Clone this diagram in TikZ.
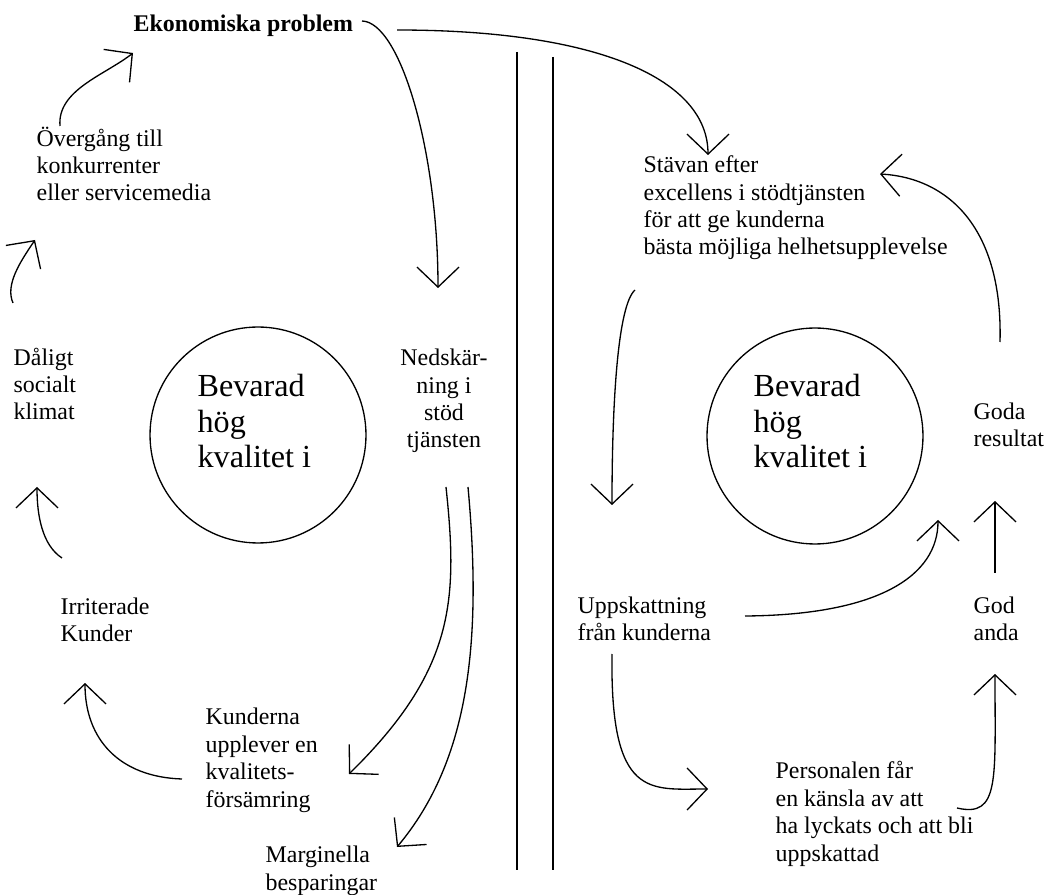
\documentclass[tikz,border=0pt]{standalone}
\usepackage{fontspec}
\setmainfont{Liberation Serif}
\usetikzlibrary{arrows.meta}
\tikzset{
	txt/.style={align=left,anchor=base west,inner sep=0pt,font=\fontsize{13.6}{15.6}\selectfont},
	ctxt/.style={txt,align=center,anchor=base},
	ring/.style={draw,circle,minimum size=4.32cm,inner sep=0pt},
	big/.style={txt,font=\fontsize{18.3}{20.4}\selectfont},
	-v/.style={-{Straight Barb[length=0.4cm,width=0.84cm]}}
}
\begin{document}
\begin{tikzpicture}[x=0.02cm,y=-0.02cm,line width=0.75pt]
	\useasboundingbox (0,0) rectangle (1046,895);
	% left cycle
	\node[txt,font=\fontsize{13.6}{15.6}\selectfont\bfseries] (eko) at (133,32) {Ekonomiska problem};
	\node[txt] (ove) at (36,201) {Övergång till\\konkurrenter\\eller servicemedia};
	\node[txt] (dal) at (13,420) {Dåligt\\socialt\\klimat};
	\node[ring] (lring) at (258,435) {};
	\node[big] (lq) at (197,468) {Bevarad\\hög\\kvalitet i};
	\node[ctxt] (ned) at (444,448) {Nedskär-\\ning i\\stöd\\tjänsten};
	\node[txt] (irr) at (60,642) {Irriterade\\Kunder};
	\node[txt] (kun) at (205,807) {Kunderna\\upplever en\\kvalitets-\\försämring};
	\node[txt] (mar) at (265,890) {Marginella\\besparingar};
	% right cycle
	\node[txt] (sta) at (643,255) {Stävan efter\\excellens i stödtjänsten\\för att ge kunderna\\bästa möjliga helhetsupplevelse};
	\node[ring] (rring) at (815,436) {};
	\node[big] (rq) at (753,468) {Bevarad\\hög\\kvalitet i};
	\node[txt] (res) at (973,447) {Goda\\resultat};
	\node[txt] (upp) at (577,641) {Uppskattning\\från kunderna};
	\node[txt] (god) at (973,641) {God\\anda};
	\node[txt] (per) at (775,861) {Personalen får\\en känsla av att\\ha lyckats och att bli\\uppskattad};
	% divider
	\draw (517,52) -- (517,870);
	\draw (553,57) -- (553,870);
	% arrow ends
	\coordinate (ekoA) at (362,21);
	\coordinate (ekoB) at (397,30);
	\coordinate (nedIn) at (438,288);
	\coordinate (staIn) at (708,155);
	\coordinate (nedA) at (446,487);
	\coordinate (nedB) at (468,487);
	\coordinate (kunIn) at (349,774);
	\coordinate (marIn) at (397,847);
	\coordinate (kunOut) at (182,779);
	\coordinate (irrIn) at (85,683);
	\coordinate (irrOut) at (62,558);
	\coordinate (dalIn) at (37,487);
	\coordinate (dalOut) at (13,303);
	\coordinate (oveIn) at (35,240);
	\coordinate (oveOut) at (60,126);
	\coordinate (ekoIn) at (133,53);
	\coordinate (staOut) at (635,290);
	\coordinate (uppIn) at (612,505);
	\coordinate (uppA) at (612,654);
	\coordinate (perIn) at (708,789);
	\coordinate (uppB) at (745,616);
	\coordinate (rringIn) at (938,520);
	\coordinate (perOut) at (957,808);
	\coordinate (godIn) at (995,674);
	\coordinate (godOut) at (995,573);
	\coordinate (resIn) at (995,501);
	\coordinate (resOut) at (1000,342);
	\coordinate (staIn2) at (880,174);
	\draw[-v] (ekoA) .. controls (400,22) and (438,150) .. (nedIn);
	\draw[-v] (ekoB) .. controls (600,30) and (708,80) .. (staIn);
	\draw[-v] (nedA) .. controls (458,600) and (455,670) .. (kunIn);
	\draw[-v] (nedB) .. controls (482,640) and (470,760) .. (marIn);
	\draw[-v] (kunOut) .. controls (120,777) and (85,740) .. (irrIn);
	\draw[-v] (irrOut) .. controls (42,545) and (37,515) .. (dalIn);
	\draw[-v] (dalOut) .. controls (5,285) and (20,262) .. (oveIn);
	\draw[-v] (oveOut) .. controls (57,90) and (105,75) .. (ekoIn);
	\draw[-v] (staOut) .. controls (618,305) and (612,400) .. (uppIn);
	\draw[-v] (uppA) .. controls (610,800) and (650,789) .. (perIn);
	\draw[-v] (uppB) .. controls (880,615) and (938,575) .. (rringIn);
	\draw[-v] (perOut) .. controls (1000,818) and (995,780) .. (godIn);
	\draw[-v] (godOut) -- (resIn);
	\draw[-v] (resOut) .. controls (1003,230) and (950,178) .. (staIn2);
\end{tikzpicture}
\end{document}
